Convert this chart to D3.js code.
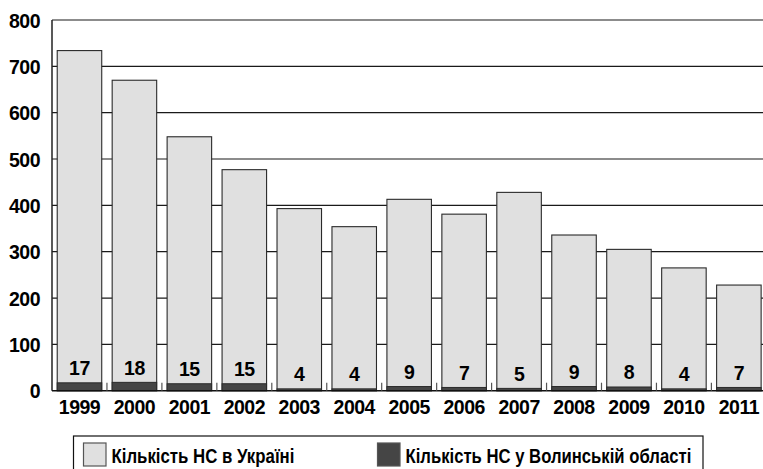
<!DOCTYPE html>
<html><head><meta charset="utf-8">
<script src="https://cdn.jsdelivr.net/npm/d3@7"></script>
<style>
html,body{margin:0;padding:0;background:#fff;}
svg{display:block;}
text{font-family:"Liberation Sans",Arial,sans-serif;font-weight:bold;fill:#000;}
</style></head>
<body>
<svg id="chart" width="763" height="469"></svg>
<script>
const years = ["1999","2000","2001","2002","2003","2004","2005","2006","2007","2008","2009","2010","2011"];
const ukraine = [734, 670, 548, 477, 393, 354, 413, 381, 428, 336, 305, 265, 228];
const volyn = [17, 18, 15, 15, 4, 4, 9, 7, 5, 9, 8, 4, 7];
const yTicks = [0, 100, 200, 300, 400, 500, 600, 700, 800];
const legendLabels = ["Кількість НС в Україні", "Кількість НС у Волинській області"];
const colors = ["#e0e0e0", "#454545"];

(function () {
const svg = d3.select("#chart");
const mLeft = 52, mTop = 20, mBottom = 390.7;
const step = 54.95;
const x = d3.scaleBand().domain(years).range([mLeft, mLeft + step * years.length])
  .paddingInner(0.19).paddingOuter(0.095);
const y = d3.scaleLinear().domain([0, 800]).range([mBottom, mTop]);
const numFont = "19.5px", numSpacing = "-0.5px";

// gridlines
svg.append("g").selectAll("line").data(yTicks.filter(d => d > 0)).join("line")
  .attr("x1", mLeft).attr("x2", 763)
  .attr("y1", d => y(d)).attr("y2", d => y(d))
  .attr("stroke", "#1a1a1a").attr("stroke-width", 1.2);

// y axis labels
const yAxis = svg.append("g").attr("transform", `translate(${mLeft},0)`)
  .call(d3.axisLeft(y).tickValues(yTicks).tickSize(0).tickPadding(12).tickFormat(d3.format("d")));
yAxis.select(".domain").remove();
yAxis.selectAll("text").style("font-size", numFont).attr("dy", "0.36em").style("letter-spacing", numSpacing);

// light bars
svg.append("g").selectAll("rect").data(years).join("rect")
  .attr("x", d => x(d)).attr("width", x.bandwidth())
  .attr("y", (d, i) => y(ukraine[i])).attr("height", (d, i) => mBottom - y(ukraine[i]))
  .attr("fill", colors[0]).attr("stroke", "#2a2a2a").attr("stroke-width", 1.1);

// dark bars
svg.append("g").selectAll("rect").data(years).join("rect")
  .attr("x", d => x(d)).attr("width", x.bandwidth())
  .attr("y", (d, i) => y(volyn[i])).attr("height", (d, i) => mBottom - y(volyn[i]))
  .attr("fill", colors[1]).attr("stroke", "#2a2a2a").attr("stroke-width", 1);

// value labels
svg.append("g").selectAll("text").data(years).join("text")
  .attr("x", d => x(d) + x.bandwidth() / 2)
  .attr("y", (d, i) => y(volyn[i]) - 7.5)
  .attr("text-anchor", "middle")
  .style("font-size", numFont).style("letter-spacing", numSpacing)
  .text((d, i) => volyn[i]);

// axis lines
svg.append("line").attr("x1", mLeft).attr("x2", mLeft).attr("y1", mTop).attr("y2", mBottom)
  .attr("stroke", "#222").attr("stroke-width", 1.5);
svg.append("line").attr("x1", mLeft).attr("x2", 763).attr("y1", mBottom).attr("y2", mBottom)
  .attr("stroke", "#111").attr("stroke-width", 1.5);

// category boundary ticks (inward)
svg.append("g").selectAll("line").data(years.slice(1)).join("line")
  .attr("x1", d => x(d) - x.step() * x.paddingInner() / 2)
  .attr("x2", d => x(d) - x.step() * x.paddingInner() / 2)
  .attr("y1", mBottom - 8).attr("y2", mBottom)
  .attr("stroke", "#555").attr("stroke-width", 1.2);

// x axis labels
const xAxis = svg.append("g").attr("transform", `translate(0,${mBottom})`)
  .call(d3.axisBottom(x).tickSize(0).tickPadding(9));
xAxis.select(".domain").remove();
xAxis.selectAll("text").style("font-size", numFont).style("letter-spacing", numSpacing).attr("dy", "0.71em");

// legend
const lg = svg.append("g");
lg.append("rect").attr("x", 73.5).attr("y", 436).attr("width", 629.5).attr("height", 40)
  .attr("fill", "#fff").attr("stroke", "#111").attr("stroke-width", 1.2);
const lx = [83.5, 377.5];
const lw = [183, 286];
legendLabels.forEach((t, i) => {
  lg.append("rect").attr("x", lx[i]).attr("y", 443).attr("width", 22.5).attr("height", 23)
    .attr("fill", colors[i]).attr("stroke", "#555").attr("stroke-width", 1.2);
  const g = lg.append("g");
  const txt = g.append("text").attr("x", 0).attr("y", 0)
    .style("font-size", "21px").text(t);
  const natural = txt.node().getComputedTextLength();
  const sx = lw[i] / natural;
  g.attr("transform", `translate(${lx[i] + 28},462.5) scale(${sx},1)`);
});
})();
</script>
</body></html>
